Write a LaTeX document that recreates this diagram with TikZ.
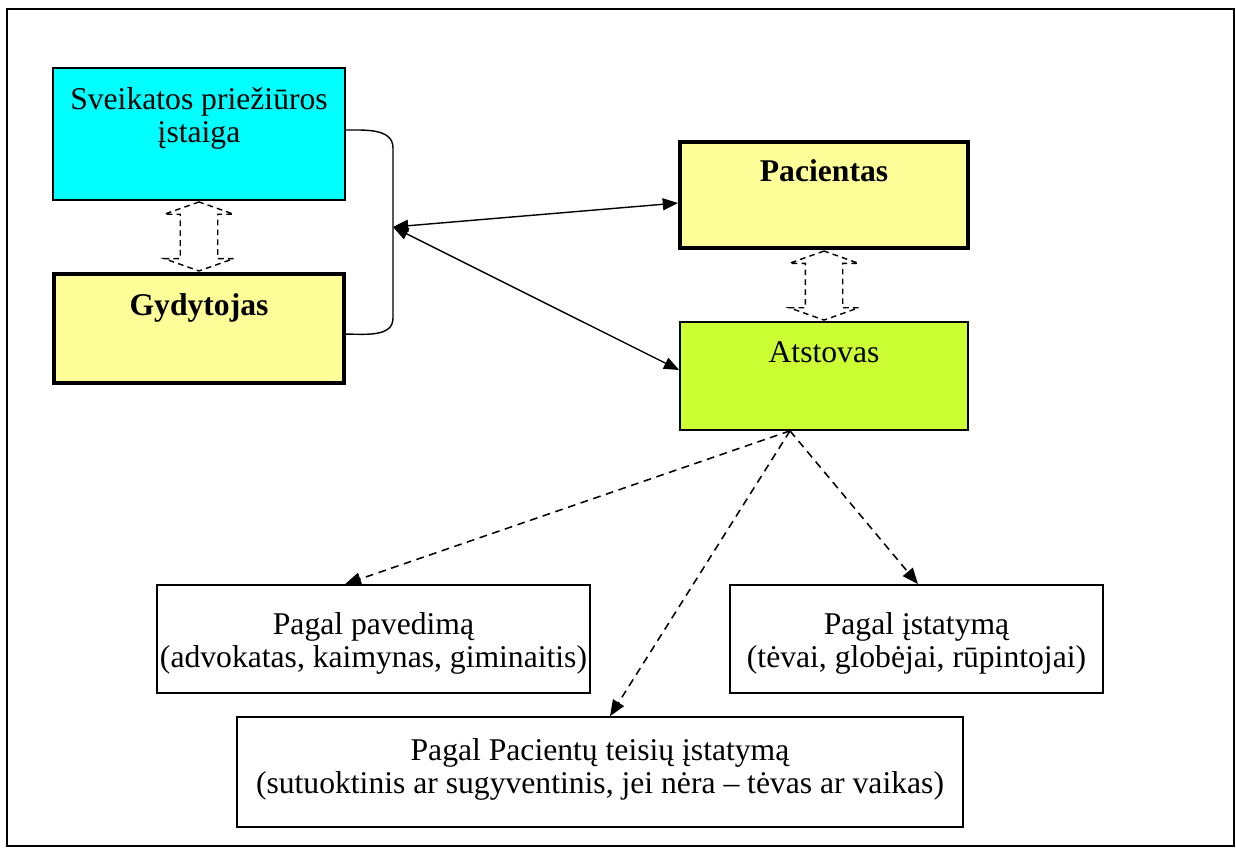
\documentclass[tikz,border=0pt]{standalone}
\usepackage{fontspec}
\setmainfont{Liberation Serif}
\usepackage{tikz}
\usetikzlibrary{
  arrows.meta,
  positioning,
  shapes.arrows,
  calc
}
\definecolor{BoxCyan}{RGB}{0, 255, 255}
\definecolor{BoxYellow}{RGB}{255, 255, 153}
\definecolor{BoxGreen}{RGB}{204, 255, 51}
\tikzset{
    box/.style={rectangle, draw=black, line width=1.2pt, inner sep=0pt, minimum height=2.7cm},
    thickbox/.style={box, line width=2.8pt},
    boxtext/.style={inner sep=0pt, align=center, font=\fontsize{22.5}{23.4}\selectfont},
    linkarrow/.style={line width=1pt, {Triangle[length=0.38cm, width=0.3cm]}-{Triangle[length=0.38cm, width=0.3cm]}},
    kindarrow/.style={line width=1.1pt, dash pattern=on 5.5pt off 4pt, -{Triangle[length=0.4cm, width=0.32cm]}},
    swaparrow/.style={double arrow, draw=black, line width=1pt, dash pattern=on 4pt off 3pt,
        inner xsep=0.45cm, inner ysep=0pt, shape border rotate=90, minimum height=1.725cm,
        double arrow head extend=0.4cm, double arrow tip angle=141}
}

\begin{document}
\begin{tikzpicture}[x=0.025cm, y=-0.025cm]
                \useasboundingbox (0,0) rectangle (1236,850);
                \draw[line width=1.2pt] (7,9) rectangle (1234,846);

                % left side
                \node[box, fill=BoxCyan, minimum width=7.3cm, minimum height=3.3cm] (sveik) at (199,134) {};
                \node[boxtext, below=0.5cm of sveik.north] (sveiktext) {Sveikatos priežiūros\\įstaiga};
                \node[thickbox, fill=BoxYellow, minimum width=7.25cm, minimum height=2.725cm] (gyd) at (199,328.5) {};
                \node[boxtext, below=0.525cm of gyd.north] (gydtext) {\bfseries Gydytojas};
                \node[swaparrow] (swapleft) at ($(sveik.south)!0.5!(gyd.north)$) {};

                % bracket joining both
                \coordinate (brace) at (393,227);
                \draw[line width=1pt] ([yshift=0.1cm]sveik.east) to[out=0, in=90] (393,148)
                    -- (393,318) to[out=-90, in=0] ([yshift=-0.14cm]gyd.east);

                % right side
                \node[thickbox, fill=BoxYellow, minimum width=7.2cm, minimum height=2.65cm] (pac) at (824,195) {};
                \node[boxtext, below=0.475cm of pac.north] (pactext) {\bfseries Pacientas};
                \node[box, fill=BoxGreen, minimum width=7.2cm, minimum height=2.7cm] (atst) at (824,376) {};
                \node[boxtext, below=0.5cm of atst.north] (atsttext) {Atstovas};
                \node[swaparrow] (swapright) at ($(pac.south)!0.5!(atst.north)$) {};

                \draw[linkarrow] (brace) -- ([yshift=-0.2cm]pac.west);
                \draw[linkarrow] (brace) -- ([yshift=0.15cm]atst.west);

                % kinds of representatives
                \node[box, minimum width=10.825cm] (pav) at (373.5,639) {};
                \node[boxtext, below=0.71cm of pav.north] (pavtext) {Pagal pavedimą\\(advokatas, kaimynas, giminaitis)};
                \node[box, minimum width=9.325cm] (ist) at (916.5,639) {};
                \node[boxtext, below=0.71cm of ist.north] (isttext) {Pagal įstatymą\\(tėvai, globėjai, rūpintojai)};
                \node[box, minimum width=18.15cm, minimum height=2.75cm] (pti) at (600,772) {};
                \node[boxtext, below=0.55cm of pti.north] (ptitext) {Pagal Pacientų teisių įstatymą\\(sutuoktinis ar sugyventinis, jei nėra – tėvas ar vaikas)};

                \coordinate (fork) at ([xshift=-0.85cm]atst.south);
                \draw[kindarrow] (fork) -- ([xshift=-0.7125cm]pav.north);
                \draw[kindarrow] (fork) -- ([xshift=0.25cm]pti.north);
                \draw[kindarrow] (fork) -- ([xshift=0.0375cm]ist.north);
            \end{tikzpicture}
\end{document}
